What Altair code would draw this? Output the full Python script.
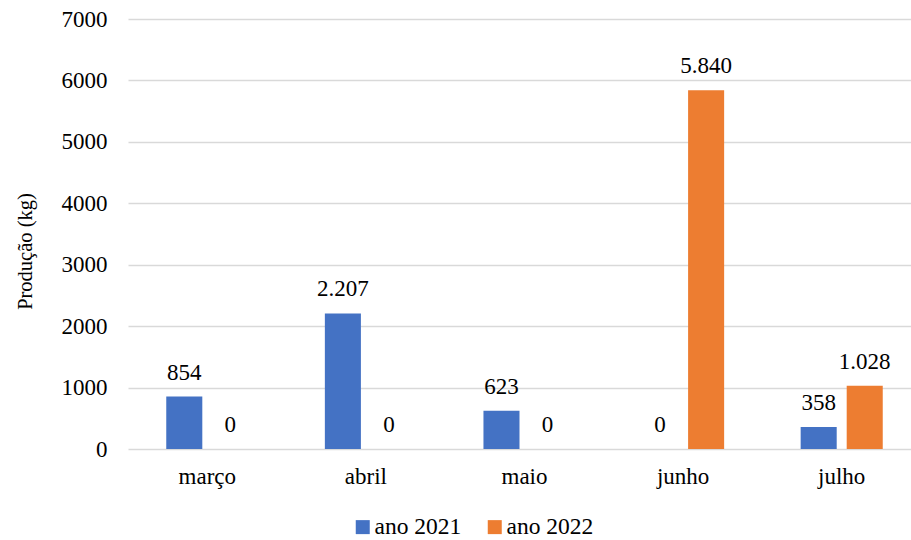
import altair as alt
import pandas as pd

months = ["março", "abril", "maio", "junho", "julho"]
series = ["ano 2021", "ano 2022"]
v2021 = [854, 2207, 623, 0, 358]
v2022 = [0, 0, 0, 5840, 1028]
colors = ["#4472C4", "#ED7D31"]
y_ticks = [0, 1000, 2000, 3000, 4000, 5000, 6000, 7000]

rows = []
for m, a, b in zip(months, v2021, v2022):
    rows.append({"mes": m, "serie": series[0], "valor": a})
    rows.append({"mes": m, "serie": series[1], "valor": b})
df = pd.DataFrame(rows)

FONT = "Liberation Serif"

x = alt.X("mes:N", sort=months, title=None,
          scale=alt.Scale(range=[0, 793], paddingInner=0, paddingOuter=0),
          axis=alt.Axis(labelAngle=0, labelFontSize=23, labelFont=FONT, labelColor="#000000",
                        ticks=False, domain=False, labelPadding=16))
xo = alt.XOffset("serie:N", sort=series,
                 scale=alt.Scale(paddingInner=0.217, paddingOuter=0.831))
y = alt.Y("valor:Q", title="Produção (kg)",
          scale=alt.Scale(domain=[0, 7000], nice=False),
          axis=alt.Axis(values=y_ticks, format="d", labelFontSize=23, labelFont=FONT,
                        labelColor="#000000", ticks=False, domain=False, labelPadding=21,
                        gridColor="#d9d9d9", gridWidth=1.4,
                        titleFont=FONT, titleFontSize=20.5, titleFontWeight="normal",
                        titleColor="#000000", titleX=-103, titleY=232,
                        titleAlign="center", titleBaseline="middle", titleAngle=270))

bars = alt.Chart(df).mark_bar().encode(
    x=x, xOffset=xo, y=y,
    color=alt.Color("serie:N", sort=series, title=None,
                    scale=alt.Scale(domain=series, range=colors),
                    legend=alt.Legend(orient="none", legendX=223, legendY=496,
                                      direction="horizontal", symbolType="square",
                                      symbolSize=196, symbolStrokeWidth=0,
                                      labelFont=FONT, labelFontSize=23.5, labelColor="#000000",
                                      labelOffset=0, columnPadding=21)),
)

labels = alt.Chart(df).transform_calculate(
    lbl="replace(format(datum.valor, ','), ',', '.')"
).mark_text(font=FONT, fontSize=23, color="#000000", baseline="alphabetic", dy=-17).encode(
    x=alt.X("mes:N", sort=months),
    xOffset=alt.XOffset("serie:N", sort=series),
    y=alt.Y("valor:Q"),
    text="lbl:N",
)

chart = alt.layer(bars, labels).properties(
    width=783, height=430,
    autosize=alt.AutoSizeParams(type="none"),
    padding={"left": 128, "top": 19, "right": 0, "bottom": 91},
).configure_view(stroke=None)

chart.save("out.html", embed_options={"renderer": "svg", "actions": False})
